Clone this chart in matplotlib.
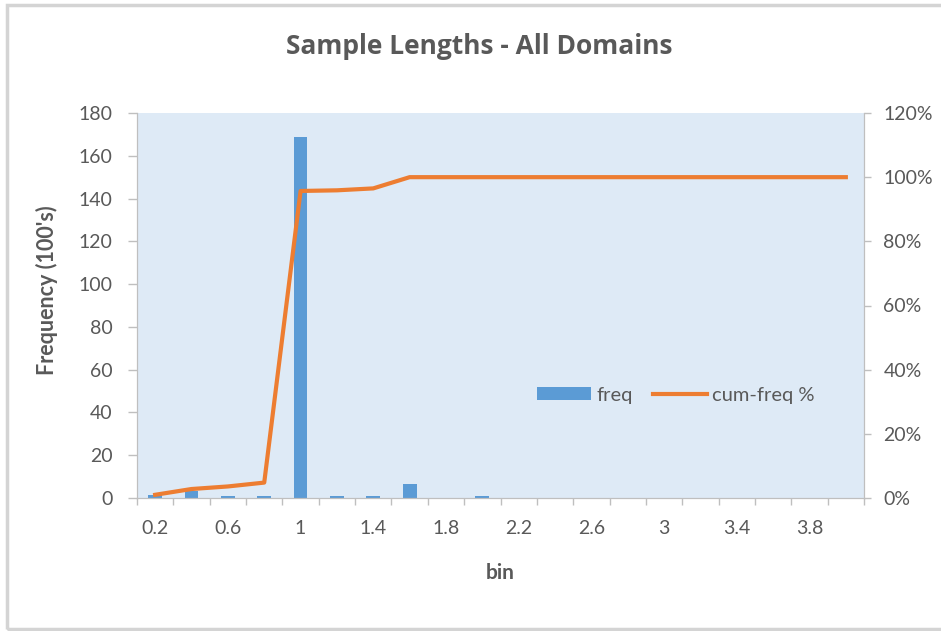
import matplotlib
matplotlib.use("Agg")
import matplotlib.pyplot as plt
import numpy as np
from matplotlib.patches import Rectangle
from matplotlib.ticker import FuncFormatter, FixedLocator

bins = ["0.2", "0.4", "0.6", "0.8", "1", "1.2", "1.4", "1.6", "1.8", "2",
        "2.2", "2.4", "2.6", "2.8", "3", "3.2", "3.4", "3.6", "3.8", "4"]
freq = [1.4, 3.3, 0.8, 0.8, 169, 0.8, 0.8, 6.5, 0, 0.8,
        0, 0, 0, 0, 0, 0, 0, 0, 0, 0]
cum_freq_pct = [1.0, 2.8, 3.6, 4.8, 95.7, 95.9, 96.5, 100, 100, 100,
                100, 100, 100, 100, 100, 100, 100, 100, 100, 100]

plt.rcParams['font.family'] = ['Lato', 'DejaVu Sans']
txt = '#595959'
spine = '#BFBFBF'
tfs = 14

W, H = 941, 631
fig = plt.figure(figsize=(W/100, H/100), dpi=100)
fig.patch.set_facecolor('white')

# outer chart frame
fig.patches.append(Rectangle((7/W, 2/H), 1.2, (H-7)/H, transform=fig.transFigure,
                             fill=False, edgecolor='#D4D4D4', linewidth=2.5))

ax = fig.add_axes([137/W, 1-498/H, (864-137)/W, (498-113)/H])
ax.set_facecolor('#DEEAF6')
x = np.arange(len(bins))
ax.bar(x, freq, width=0.38, color='#5B9BD5', label='freq', zorder=2)
ax.set_xlim(-0.5, len(bins)-0.5)
ax.set_ylim(0, 180)
ax.set_yticks(np.arange(0, 181, 20))
ax.xaxis.set_major_locator(FixedLocator(x[::2]))
ax.set_xticklabels(bins[::2])
ax.xaxis.set_minor_locator(FixedLocator(np.arange(-0.5, len(bins), 1)))
ax.tick_params(axis='x', which='major', length=0, pad=16, labelsize=tfs, labelcolor=txt)
ax.tick_params(axis='x', which='minor', length=5, color=spine, width=1)
ax.tick_params(axis='y', length=6.5, color=spine, width=1, labelsize=tfs, labelcolor=txt, pad=11)
ax.spines['top'].set_visible(False)
for s in ['left', 'bottom', 'right']:
    ax.spines[s].set_color(spine)
ax.set_xlabel('bin', fontsize=15, fontweight='bold', color=txt)
ax.xaxis.label.set_va('center')
ax.xaxis.set_label_coords(0.5, (498-573)/385)
ax.set_ylabel("Frequency (100's)", fontsize=15.5, fontweight='bold', color=txt)
ax.yaxis.label.set_va('center')
ax.yaxis.set_label_coords((47-137)/727, 0.54)

ax2 = ax.twinx()
ax2.plot(x, np.array(cum_freq_pct)/100, color='#ED7D31', linewidth=3, label='cum-freq %',
         solid_joinstyle='round', zorder=3)
ax2.set_ylim(0, 1.2)
ax2.set_yticks(np.arange(0, 1.21, 0.2))
ax2.yaxis.set_major_formatter(FuncFormatter(lambda v, p: f"{v*100:.0f}%"))
ax2.tick_params(axis='y', length=5, color=spine, width=1, labelsize=tfs, labelcolor=txt, pad=9)
ax2.spines['top'].set_visible(False)
for s in ['left', 'bottom', 'right']:
    ax2.spines[s].set_color(spine)

fig.text(479/W, 1-47/H, 'Sample Lengths - All Domains', ha='center', va='center',
         fontsize=19, fontweight='bold', color=txt, family=['Open Sans', 'DejaVu Sans'])

h1, l1 = ax.get_legend_handles_labels()
h2, l2 = ax2.get_legend_handles_labels()
leg = ax2.legend(h1+h2, l1+l2, loc='center', bbox_to_anchor=((676-137)/727, (498-395)/385),
                 ncol=2, frameon=False, fontsize=14.5, handlelength=2.7,
                 handleheight=0.6, columnspacing=1.0, handletextpad=0.25,
                 borderpad=0, borderaxespad=0)
for t in leg.get_texts():
    t.set_color(txt)

fig.savefig('out.png', dpi=100)
